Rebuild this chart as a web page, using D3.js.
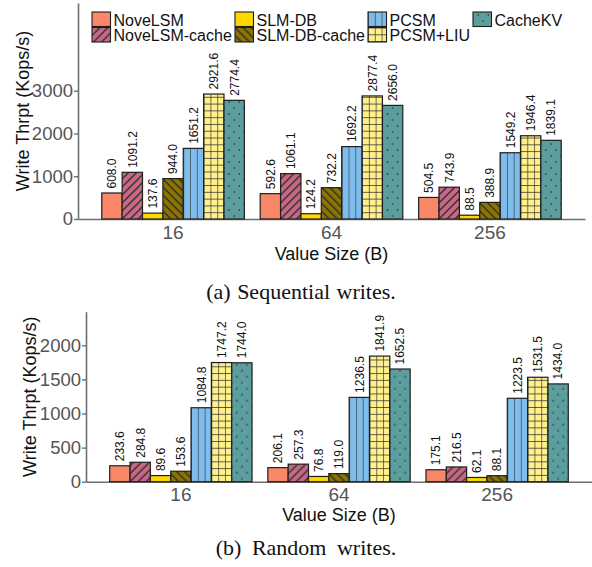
<!DOCTYPE html>
<html>
<head>
<meta charset="utf-8">
<script src="https://cdn.jsdelivr.net/npm/d3@7"></script>
<style>
  body { margin: 0; background: #fff; }
  text { font-family: "Liberation Sans", Arial, sans-serif; }
</style>
</head>
<body>
<svg width="592" height="567"></svg>
<script>
// data
var systems = ["NoveLSM", "NoveLSM-cache", "SLM-DB", "SLM-DB-cache", "PCSM", "PCSM+LIU", "CacheKV"];
var sizes = ["16", "64", "256"];
var seqValues = [
  [608.0, 1091.2, 137.6, 944.0, 1651.2, 2921.6, 2774.4],
  [592.6, 1061.1, 124.2, 732.2, 1692.2, 2877.4, 2656.0],
  [504.5, 743.9, 88.5, 388.9, 1549.2, 1946.4, 1839.1]
];
var rndValues = [
  [233.6, 284.8, 89.6, 153.6, 1084.8, 1747.2, 1744.0],
  [206.1, 257.3, 76.8, 119.0, 1236.5, 1841.9, 1652.5],
  [175.1, 216.5, 62.1, 88.1, 1223.5, 1531.5, 1434.0]
];
var seqTicks = [0, 1000, 2000, 3000];
var rndTicks = [0, 500, 1000, 1500, 2000];

var fills = {"NoveLSM":"#F98868", "NoveLSM-cache":"#C86884", "SLM-DB":"#FFD700", "SLM-DB-cache":"#8B7500",
             "PCSM":"#7EBDEB", "PCSM+LIU":"#FFF08C", "CacheKV":"#5C9E9D"};

var svg = d3.select("svg");
var defs = svg.append("defs");
var bw = 158.4*0.9/7;
var cell = bw/3;
var ink = "#2b2b2b";

// patterns (userSpaceOnUse, aligned to each bar's own group origin)
function pat(id, w, h, bg){
  var p = defs.append("pattern").attr("id", id).attr("patternUnits","userSpaceOnUse")
    .attr("width", w).attr("height", h);
  p.append("rect").attr("width", w).attr("height", h).attr("fill", bg);
  return p;
}
pat("p0", 10, 10, fills["NoveLSM"]);
pat("p2", 10, 10, fills["SLM-DB"]);
var p1 = pat("p1", 8, 8, fills["NoveLSM-cache"]);
p1.append("path").attr("d","M-2,2L2,-2M0,8L8,0M6,10L10,6").attr("stroke", ink).attr("stroke-width",1.3);
var p3 = pat("p3", 8, 8, fills["SLM-DB-cache"]);
p3.append("path").attr("d","M-2,6L2,10M0,0L8,8M6,-2L10,2").attr("stroke", ink).attr("stroke-width",1.3);
var p4 = pat("p4", cell, 10, fills["PCSM"]);
p4.append("path").attr("d","M0,0V10").attr("stroke", ink).attr("stroke-width",1.2);
var p5 = pat("p5", cell, cell, fills["PCSM+LIU"]);
p5.append("path").attr("d","M0,0V"+cell+"M0,0H"+cell).attr("stroke", ink).attr("stroke-width",1.3);
var p6 = pat("p6", bw/2, 12, fills["CacheKV"]);
p6.append("circle").attr("cx", bw/4).attr("cy", 3).attr("r", 0.7).attr("fill", "#111");
p6.append("circle").attr("cx", 0).attr("cy", 9).attr("r", 0.7).attr("fill", "#111");
p6.append("circle").attr("cx", bw/2).attr("cy", 9).attr("r", 0.7).attr("fill", "#111");

function drawPanel(values, ticks, o){
  var g = svg.append("g");
  var x = d3.scaleBand().domain(sizes).range([o.left, o.right]).paddingInner(0.1).paddingOuter(0.15);
  var xs = d3.scaleBand().domain(systems).range([0, x.bandwidth()]);
  var y = d3.scaleLinear().domain([0, o.ymax]).range([o.base, o.top]);

  // axes
  var ya = g.append("g").attr("transform","translate("+o.left+",0)")
    .call(d3.axisLeft(y).tickValues(ticks).tickFormat(d3.format("d")).tickSize(4).tickSizeOuter(0));
  ya.select(".domain").attr("stroke","#6e6e6e").attr("stroke-width",1.6);
  ya.selectAll(".tick line").attr("stroke","#6e6e6e").attr("stroke-width",1.4);
  ya.selectAll(".tick text").attr("fill","#555").attr("font-size",18.5).attr("x",-5)
    .attr("font-family","Liberation Sans, Arial, sans-serif");

  var xa = g.append("g").attr("transform","translate(0,"+o.base+")")
    .call(d3.axisBottom(x).tickSize(0).tickSizeOuter(0));
  xa.select(".domain").attr("stroke","#6e6e6e").attr("stroke-width",1.6);
  xa.selectAll(".tick text").attr("fill","#555").attr("font-size",19).attr("dy","0.88em")
    .attr("font-family","Liberation Sans, Arial, sans-serif");

  // bars
  var groups = g.selectAll(".grp").data(values).join("g").attr("class","grp")
    .attr("transform",(d,i)=>"translate("+x(sizes[i])+",0)");
  var bars = groups.selectAll(".bar").data(d=>d.map((v,j)=>({k:systems[j], v:v, j:j}))).join("g")
    .attr("class","bar")
    .attr("transform",d=>"translate("+xs(d.k)+","+o.base+")");
  bars.append("rect")
    .attr("x",0).attr("y",d=>y(d.v)-o.base)
    .attr("width",xs.bandwidth()).attr("height",d=>o.base-y(d.v))
    .attr("fill",d=>"url(#p"+d.j+")")
    .attr("stroke","#1e1e1e").attr("stroke-width",1.2);
  bars.append("text")
    .attr("transform",d=>"translate("+(xs.bandwidth()/2)+","+(y(d.v)-o.base-4.5)+") rotate(-90)")
    .attr("dy","0.36em")
    .attr("font-size",12).attr("fill","#111")
    .text(d=>d3.format(".1f")(d.v));

  // titles
  g.append("text").attr("transform","translate("+o.ytx+","+((o.base+o.top)/2)+") rotate(-90)")
    .attr("text-anchor","middle").attr("font-size",18).attr("fill","#111").text("Write Thrpt (Kops/s)");
  g.append("text").attr("x",(o.left+o.right)/2).attr("y",o.xty)
    .attr("text-anchor","middle").attr("font-size",18).attr("fill","#111").text("Value Size (B)");
  g.append("text").attr("x",o.capx).attr("y",o.capy)
    .attr("text-anchor","middle").attr("font-size",o.capSize).attr("fill","#111")
    .style("font-family","'Liberation Serif','Times New Roman',serif")
    .style("word-spacing", o.capSpace+"px").text(o.caption);
}

drawPanel(seqValues, seqTicks, {left:78, right:585, base:219, top:3, ymax:5050,
  ytx:29, xty:260, capx:301, capy:299, capSize:22, capSpace:1, caption:"(a) Sequential writes."});
drawPanel(rndValues, rndTicks, {left:86, right:592, base:481.7, top:311.7, ymax:2493,
  ytx:36, xty:521, capx:306, capy:555, capSize:22, capSpace:5, caption:"(b) Random writes."});

// legend (top panel only)
var legX = [92, 235, 368, 473];
var leg = svg.append("g").selectAll("g").data(systems).join("g")
  .attr("transform",(d,i)=>"translate("+legX[Math.floor(i/2)]+","+(i%2==0 ? 12 : 27.5)+")");
leg.append("rect").attr("width",18.5).attr("height",14.5)
  .attr("fill",(d,i)=>"url(#p"+i+")").attr("stroke","#1e1e1e").attr("stroke-width",1.1);
leg.append("text").attr("x",21.5).attr("y",13.5).attr("font-size",16).attr("fill","#111").text(d=>d);
</script>
</body>
</html>
